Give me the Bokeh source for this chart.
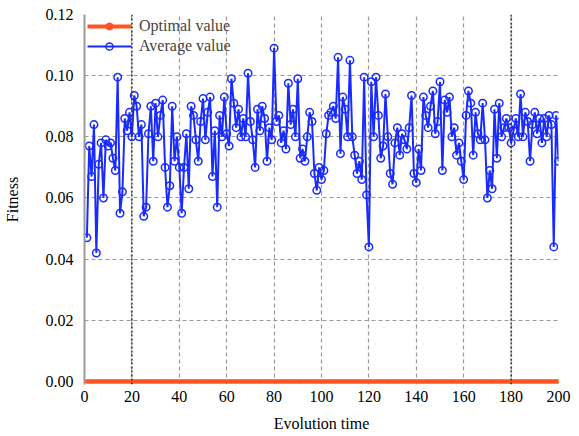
from bokeh.plotting import figure
from bokeh.models import Range1d, FixedTicker, NumeralTickFormatter, Legend, LegendItem, Span
from bokeh.embed import file_html
from bokeh.resources import INLINE

x_label = "Evolution time"
y_label = "Fitness"
x_ticks = [0, 20, 40, 60, 80, 100, 120, 140, 160, 180, 200]
y_ticks = [0.0, 0.02, 0.04, 0.06, 0.08, 0.10, 0.12]

average_value = [
    0.047, 0.077, 0.067, 0.084, 0.042, 0.071, 0.078, 0.060, 0.079, 0.077,
    0.078, 0.073, 0.069, 0.0995, 0.055, 0.062, 0.086, 0.082, 0.088, 0.080,
    0.0935, 0.090, 0.080, 0.084, 0.054, 0.057, 0.081, 0.090, 0.072, 0.091,
    0.080, 0.087, 0.092, 0.070, 0.057, 0.064, 0.090, 0.072, 0.080, 0.070,
    0.055, 0.070, 0.081, 0.063, 0.090, 0.087, 0.079, 0.072, 0.085, 0.0925,
    0.079, 0.088, 0.093, 0.067, 0.082, 0.057, 0.087, 0.080, 0.093, 0.081,
    0.077, 0.099, 0.091, 0.083, 0.089, 0.080, 0.086, 0.080, 0.1008, 0.085,
    0.079, 0.070, 0.089, 0.082, 0.090, 0.086, 0.072, 0.083, 0.079, 0.109,
    0.085, 0.087, 0.078, 0.082, 0.076, 0.0975, 0.084, 0.089, 0.080, 0.099,
    0.073, 0.076, 0.072, 0.080, 0.088, 0.085, 0.068, 0.0625, 0.070, 0.066,
    0.069, 0.081, 0.087, 0.088, 0.090, 0.086, 0.106, 0.0745, 0.093, 0.089,
    0.080, 0.105, 0.080, 0.074, 0.068, 0.072, 0.066, 0.0995, 0.061, 0.044,
    0.098, 0.080, 0.0995, 0.087, 0.073, 0.077, 0.094, 0.080, 0.068, 0.0645,
    0.078, 0.083, 0.074, 0.081, 0.079, 0.076, 0.083, 0.0935, 0.068, 0.065,
    0.076, 0.069, 0.093, 0.087, 0.083, 0.090, 0.095, 0.081, 0.085, 0.098,
    0.069, 0.092, 0.088, 0.093, 0.080, 0.083, 0.074, 0.078, 0.072, 0.066,
    0.087, 0.095, 0.091, 0.074, 0.088, 0.081, 0.079, 0.091, 0.079, 0.060,
    0.069, 0.063, 0.089, 0.073, 0.091, 0.080, 0.083, 0.086, 0.083, 0.078,
    0.082, 0.086, 0.080, 0.094, 0.080, 0.088, 0.085, 0.072, 0.084, 0.088,
    0.081, 0.086, 0.078, 0.086, 0.080, 0.087, 0.084, 0.044, 0.087, 0.072,
]
generations = list(range(1, len(average_value) + 1))
optimal_value = [0.0] * len(average_value)

FONT = "Liberation Serif"
BLUE = "#1a2bff"
ORANGE = "#ff5522"

p = figure(width=579, height=436, x_range=Range1d(0, 200), y_range=Range1d(-0.001, 0.12),
           output_backend="svg", toolbar_location=None,
           min_border_left=80, min_border_right=21, min_border_top=14, min_border_bottom=52)
p.outline_line_color = None
p.background_fill_color = "white"

# grid
p.xaxis.ticker = FixedTicker(ticks=x_ticks)
p.yaxis.ticker = FixedTicker(ticks=y_ticks)
for g in (p.xgrid, p.ygrid):
    g.grid_line_color = "#9a9a9a"
    g.grid_line_dash = "4 3"
    g.grid_line_width = 1.2
for loc in (20, 180):
    p.add_layout(Span(location=loc, dimension="height", line_color="#333333",
                      line_dash="2 2", line_width=1.5))

# axes
p.yaxis.formatter = NumeralTickFormatter(format="0.00")
for ax in (p.xaxis, p.yaxis):
    ax.major_tick_line_color = None
    ax.minor_tick_line_color = None
    ax.major_label_text_font = FONT
    ax.major_label_text_font_size = "16px"
    ax.major_label_text_color = "black"
    ax.axis_label_text_font = FONT
    ax.axis_label_text_font_size = "16px"
    ax.axis_label_text_font_style = "normal"
    ax.axis_label_text_color = "black"
p.xaxis.axis_line_color = None
p.yaxis.axis_line_color = "#999999"
p.yaxis.axis_line_width = 2
p.xaxis.major_label_standoff = 0
p.yaxis.major_label_standoff = 5
p.xaxis.axis_label = x_label
p.yaxis.axis_label = y_label
p.xaxis.axis_label_standoff = 10
p.yaxis.axis_label_standoff = 22

# series
avg_line = p.line(generations, average_value, line_color=BLUE, line_width=2)
avg_pts = p.scatter(generations, average_value, marker="circle", size=7.5,
                    line_color=BLUE, line_width=1.5, fill_color=None)
opt_line = p.line(generations, optimal_value, line_color=ORANGE, line_width=4)
opt_pts = p.scatter(generations, optimal_value, marker="circle", size=3.5,
                    line_color=ORANGE, fill_color=ORANGE)

legend = Legend(items=[LegendItem(label="Optimal value", renderers=[opt_line, opt_pts]),
                       LegendItem(label="Average value", renderers=[avg_line, avg_pts])],
                location="top_left")
legend.border_line_color = None
legend.background_fill_alpha = 0
legend.label_text_font = FONT
legend.label_text_font_size = "16px"
legend.glyph_width = 44
legend.glyph_height = 18
legend.label_height = 18
legend.label_standoff = 8
legend.spacing = 2
legend.margin = 3
legend.padding = 3
p.add_layout(legend)

open("out.html", "w").write(file_html(p, INLINE))
